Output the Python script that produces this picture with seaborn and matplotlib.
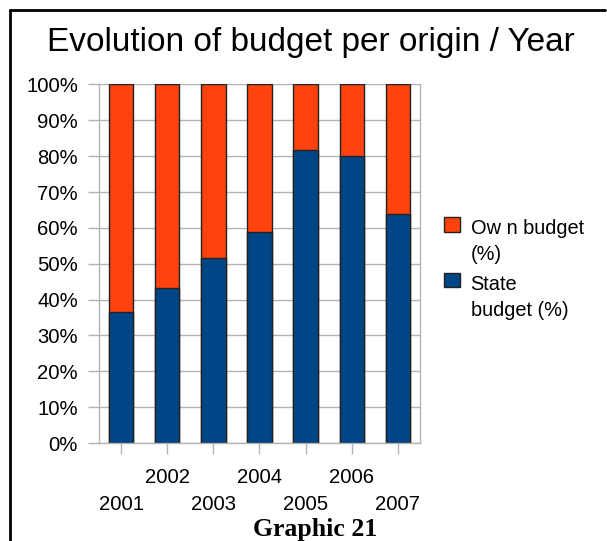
import numpy as np
import pandas as pd
import seaborn as sns
import matplotlib.pyplot as plt
from matplotlib.lines import Line2D
from matplotlib.patches import Rectangle
from matplotlib.legend_handler import HandlerPatch

sns.set_style("white")
plt.rcParams['font.family'] = ['Liberation Sans', 'DejaVu Sans']
plt.rcParams['text.color'] = 'black'

# data
years = ["2001", "2002", "2003", "2004", "2005", "2006", "2007"]
state_budget = [36.6, 43.3, 51.7, 58.9, 81.8, 80.0, 64.0]
own_budget = [63.4, 56.7, 48.3, 41.1, 18.2, 20.0, 36.0]

orange = "#FF420E"
blue = "#004586"
edge = "#222222"
grid_col = "#b3b3b3"

df = pd.DataFrame({"year": years, "state": state_budget, "own": own_budget})
df["total"] = df["state"] + df["own"]

fig = plt.figure(figsize=(6.07, 5.41), dpi=100)
ax = fig.add_axes([0.163, 0.181, 0.529, 0.663])

# stacked bars: full height in orange, state share on top in blue
sns.barplot(data=df, x="year", y="total", color=orange, saturation=1,
            edgecolor=edge, linewidth=1, width=0.53, ax=ax)
sns.barplot(data=df, x="year", y="state", color=blue, saturation=1,
            edgecolor=edge, linewidth=1, width=0.53, ax=ax)

ax.set_xlim(-0.48, 6.48)
ax.set_ylim(0, 100)
ax.set_xlabel("")
ax.set_ylabel("")

yt = np.arange(0, 101, 10)
ax.set_yticks(yt)
ax.set_yticklabels([f"{v}%" for v in yt])
# staggered year labels
ax.set_xticks(range(len(years)))
ax.set_xticklabels([("\n" + y) if i % 2 == 0 else y for i, y in enumerate(years)])
for t in ax.get_xticklabels():
    t.set_linespacing(1.56)

ax.yaxis.grid(True, color=grid_col, lw=1)
ax.set_axisbelow(True)
for s in ["left", "right", "bottom"]:
    ax.spines[s].set_visible(True)
    ax.spines[s].set_color(grid_col)
    ax.spines[s].set_linewidth(1)
ax.spines["top"].set_visible(False)
ax.tick_params(axis="both", colors=grid_col, labelcolor="black", labelsize=14.6,
               length=8, width=1)
ax.tick_params(axis="x", direction="out", bottom=True, pad=10)
ax.tick_params(axis="y", direction="out", left=True, pad=7)


def top_square(legend, orig_handle, xdescent, ydescent, width, height, fontsize):
    return Rectangle((-xdescent, -ydescent + 0.875 * fontsize), width, height)


handles = [Rectangle((0, 0), 1, 1, facecolor=orange, edgecolor=edge, lw=1),
           Rectangle((0, 0), 1, 1, facecolor=blue, edgecolor=edge, lw=1)]
labels = ["Ow n budget\n(%)", "State\nbudget (%)"]
leg = fig.legend(handles, labels, loc="upper left", bbox_to_anchor=(444 / 607, 1 - 219 / 541),
                 frameon=False, fontsize=14.4, handlelength=0.78, handleheight=0.72,
                 handletextpad=0.55, labelspacing=0.55, borderpad=0, borderaxespad=0,
                 handler_map={Rectangle: HandlerPatch(patch_func=top_square)})
for t in leg.get_texts():
    t.set_linespacing(1.45)

fig.text(311 / 607, 1 - 43 / 541, "Evolution of budget per origin / Year",
         ha="center", va="center", fontsize=24)
fig.text(315 / 607, 1 - 518 / 541, "Graphic 21", ha="center", va="top",
         fontsize=18.5, fontweight="bold", family="Liberation Serif")

# page frame
fig.add_artist(Line2D([10 / 607, 605 / 607], [1 - 10 / 541, 1 - 10 / 541],
                      color="black", lw=2, transform=fig.transFigure))
fig.add_artist(Line2D([10 / 607, 10 / 607], [0, 1 - 10 / 541],
                      color="black", lw=2, transform=fig.transFigure))

fig.savefig("out.png", dpi=100)
